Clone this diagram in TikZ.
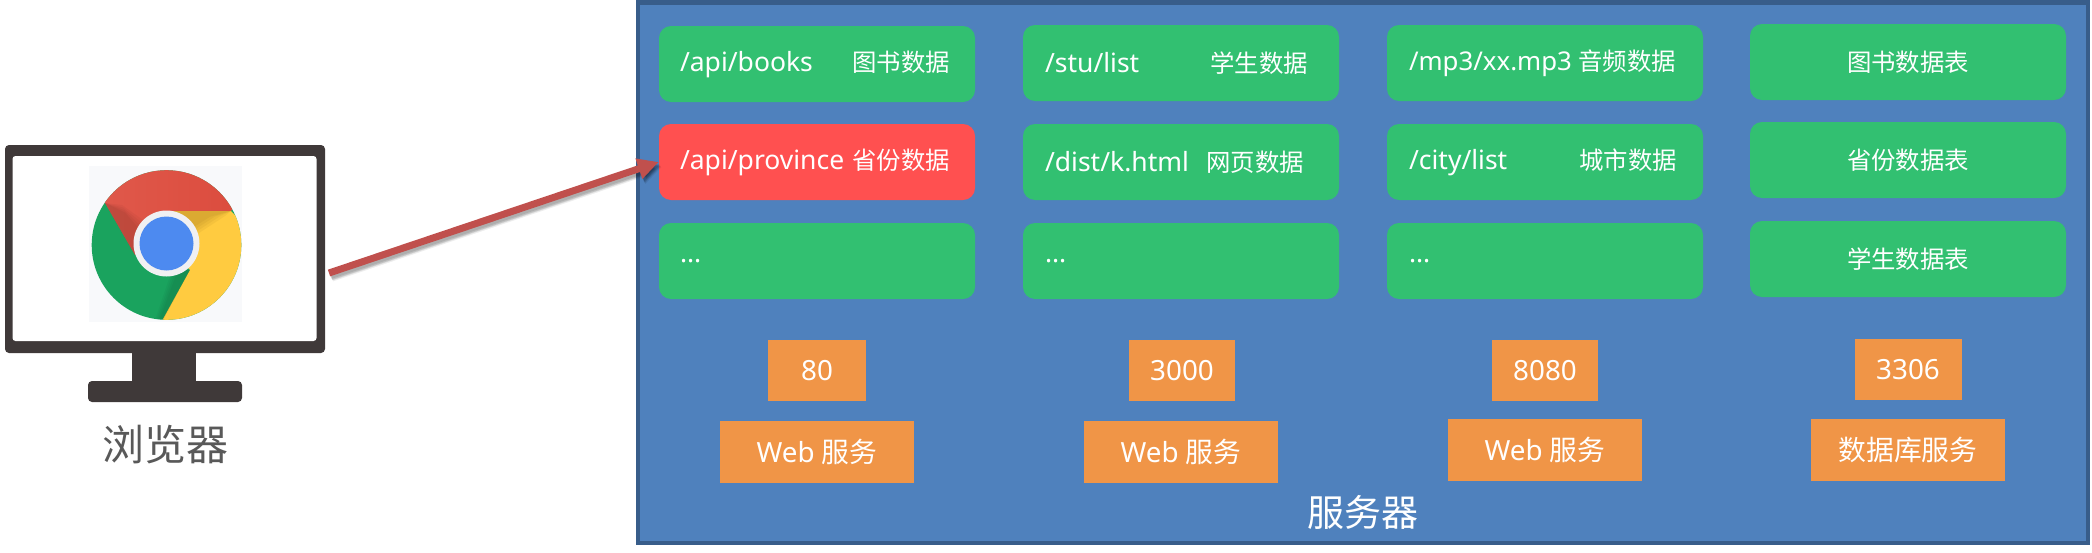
\documentclass[tikz,border=0pt]{standalone}
\usepackage{fontspec}
\setmainfont{Noto Sans}
\newfontfamily\cjk{Noto Sans CJK SC}
\usetikzlibrary{arrows.meta}
\definecolor{srvfill}{HTML}{4F81BD}
\definecolor{srvline}{HTML}{385D8A}
\definecolor{gboxc}{HTML}{32C071}
\definecolor{rboxc}{HTML}{FF5050}
\definecolor{oboxc}{HTML}{F09547}
\definecolor{moncol}{HTML}{3F3939}
\definecolor{arrowc}{HTML}{C0504D}
\definecolor{chromebg}{HTML}{F8F9FB}
\definecolor{chgreen}{HTML}{1AA35E}
\definecolor{chred}{HTML}{DB4A3C}
\definecolor{chredl}{HTML}{E05A4C}
\definecolor{chyellow}{HTML}{FFCB40}
\definecolor{chblue}{HTML}{4D8AF0}
\definecolor{chring}{HTML}{F0F0F2}
\definecolor{labelgrey}{HTML}{595959}
\newcommand\zh[1]{{\cjk #1}}
\newcommand\lat[1]{{\fontsize{26.5}{30}\selectfont #1}}
\newcommand\rowtext[4]{\hbox to 316pt{\hskip #1pt\lat{#3}\hfill\zh{#4}\hskip #2pt}}
\tikzset{
  x=1pt,y=-1pt,
  cell/.style={rounded corners=12pt,minimum width=316pt,minimum height=76pt,inner sep=0pt,text=white,font=\fontsize{24.4}{28}\selectfont,anchor=center},
  gbox/.style={cell,fill=gboxc},
  rbox/.style={cell,fill=rboxc},
  port/.style={fill=oboxc,minimum height=61pt,inner sep=0pt,text=white,font=\fontsize{27.8}{30}\selectfont},
  svc/.style={port,minimum height=62pt,minimum width=194pt},
  reqarrow/.style={line width=7pt,-{Triangle[length=21pt,width=20pt]}},
}
\begin{document}
\begin{tikzpicture}
\useasboundingbox (0,0) rectangle (2092,552);
% server
\node[draw=srvline,line width=4.5pt,fill=srvfill,minimum width=1450pt,minimum height=540.5pt,inner sep=0pt,outer sep=0pt] (server) at (1363,272.8) {};
% data boxes
\node[gbox] (a1) at (817,64) {\rowtext{21}{25}{/api/books}{图书数据}};
\node[rbox] (a2) at (817,162) {\rowtext{21}{25}{/api/province}{省份数据}};
\node[gbox] (a3) at (817,261) {\rowtext{21}{0}{...}{}};
\node[gbox] (b1) at (1181,63) {\rowtext{22}{31}{/stu/list}{学生数据}};
\node[gbox] (b2) at (1181,162) {\rowtext{22}{35}{/dist/k.html}{网页数据}};
\node[gbox] (b3) at (1181,261) {\rowtext{22}{0}{...}{}};
\node[gbox] (c1) at (1545,63) {\hbox to 316pt{\hskip 22pt{\fontsize{25.8}{30}\selectfont /mp3/xx.mp3}\hfill\zh{音频数据}\hskip 27pt}};
\node[gbox] (c2) at (1545,162) {\rowtext{22}{26}{/city/list}{城市数据}};
\node[gbox] (c3) at (1545,261) {\rowtext{22}{0}{...}{}};
\node[gbox] (d1) at (1908,62) {\zh{图书数据表}};
\node[gbox] (d2) at (1908,160) {\zh{省份数据表}};
\node[gbox] (d3) at (1908,259) {\zh{学生数据表}};
% ports and services
\node[port,minimum width=98pt] (p1) at (817,370.5) {80};
\node[port,minimum width=106pt] (p2) at (1182,370.5) {3000};
\node[port,minimum width=106pt] (p3) at (1545,370.5) {8080};
\node[port,minimum width=107pt] (p4) at (1908,369.5) {3306};
\node[svc] (s1) at (817,452) {Web \zh{服务}};
\node[svc] (s2) at (1181,452) {Web \zh{服务}};
\node[svc] (s3) at (1545,450) {Web \zh{服务}};
\node[svc] (s4) at (1908,450) {\zh{数据库服务}};
\node[text=white,inner sep=0pt,font=\fontsize{37}{42}\selectfont] (srvlabel) at (1363,512) {\zh{服务器}};
% monitor
\fill[moncol] (132,350) rectangle (196,384);
\fill[moncol,rounded corners=4pt] (88,381) rectangle (242,402);
\fill[moncol,rounded corners=4pt] (5,145) rectangle (325,353);
\node[fill=white,rounded corners=3pt,minimum width=304pt,minimum height=185pt,inner sep=0pt] (monitor) at (164.5,248.5) {};
% chrome logo
\fill[chromebg] (89,166) rectangle (242,322);
\begin{scope}
\clip (166.5,245) circle[radius=74.8];
\fill[chgreen] (80,160) rectangle (250,330);
\path[left color=chredl,right color=chred] (105,203) -- (135,255) -- (166.5,243.5) -- (166.5,211) -- (231,211) -- (260,170) -- (167,150) -- (85,170) -- cycle;
\fill[chyellow] (166.5,211) -- (231,211) -- (260,240) -- (260,330) -- (158,328) -- (190,270) -- (166.5,243.5) -- cycle;
% soft shadows beside the wedge edges
\foreach \f in {0,0.25,0.5,0.75}{
  \fill[black,opacity=.035] (105,203) -- (135,255) -- ({150-\f*12},{225+\f*8}) -- ({122+\f*4},{205+\f*10}) -- cycle;
  \fill[black!70!orange,opacity=.05] (166.5,211) -- (231,211) -- ({225-\f*20},{216+\f*1}) -- ({196-\f*4},{235-\f*10}) -- cycle;
  \fill[black,opacity=.03] (190,270) -- (163,320) -- ({155+\f*6},{320}) -- ({172+\f*8},{270}) -- cycle;
}
\end{scope}
\fill[chring] (166.5,243.5) circle[radius=33];
\fill[chblue] (166.5,243.5) circle[radius=27];
\node[inner sep=0pt,text=labelgrey,font=\fontsize{42}{46}\selectfont] (browser) at (165,445) {\zh{浏览器}};
% connector with its soft shadow
\coordinate (reqstart) at (329,273);
\foreach \dx/\dy/\op in {3/5/.07,2.5/4/.09,2/3.5/.1,1.5/2.5/.1}{
  \begin{scope}[transform canvas={shift={(\dx pt,-\dy pt)}}]
    \draw[reqarrow,black,opacity=\op] (reqstart) -- (a2.west);
  \end{scope}
}
\draw[reqarrow,arrowc] (reqstart) -- (a2.west);
\end{tikzpicture}
\end{document}
